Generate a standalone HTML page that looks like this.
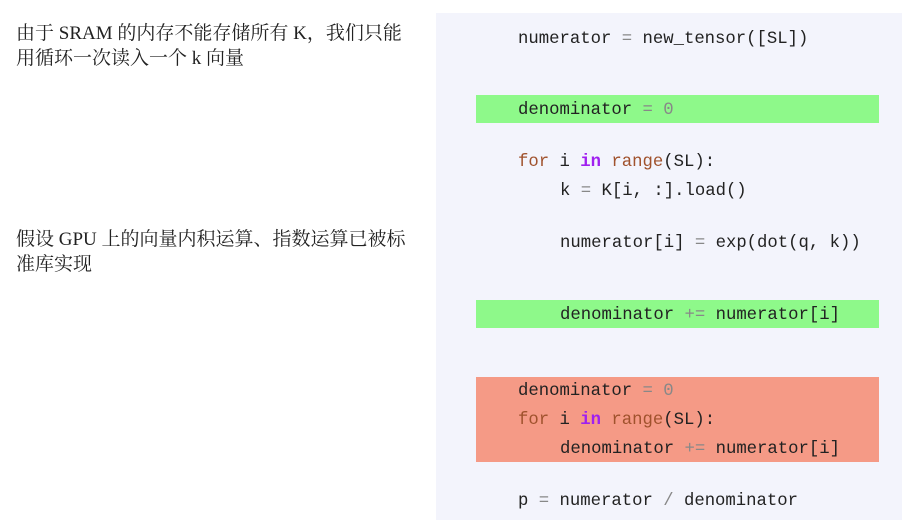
<!DOCTYPE html>
<html><head><meta charset="utf-8"><style>
body{margin:0;width:911px;height:529px;background:#fff;position:relative;overflow:hidden}
.t{position:absolute;left:16px;font-family:"Liberation Serif","Noto Serif CJK SC",serif;font-size:19px;color:#222;line-height:25px;white-space:nowrap}
.panel{position:absolute;left:436px;top:13px;width:466px;height:507px;background:#f3f4fc}
.box{position:absolute;left:476px;width:403px}
.c{position:absolute;font-family:"Liberation Mono",monospace;font-size:17.3px;color:#222;white-space:pre;line-height:20px}
.k{color:#a0522d}.p{color:#a020f0;font-weight:bold}.o{color:#888}
</style></head><body>
<div class="t" style="top:21px">由于 SRAM 的内存不能存储所有 K，我们只能<br>用循环一次读入一个 k 向量</div>
<div class="t" style="top:227px">假设 GPU 上的向量内积运算、指数运算已被标<br>准库实现</div>
<div class="panel"></div>
<div class="box" style="top:95px;height:28px;background:#8ef98a"></div>
<div class="box" style="top:300px;height:28px;background:#8ef98a"></div>
<div class="box" style="top:377px;height:85px;background:#f59a86"></div>
<div class="c" style="left:518px;top:30px">numerator <span class="o">=</span> new_tensor([SL])</div>
<div class="c" style="left:518px;top:101px">denominator <span class="o">= 0</span></div>
<div class="c" style="left:518px;top:153px"><span class="k">for</span> i <span class="p">in</span> <span class="k">range</span>(SL):</div>
<div class="c" style="left:560px;top:182px">k <span class="o">=</span> K[i, :].load()</div>
<div class="c" style="left:560px;top:234px">numerator[i] <span class="o">=</span> exp(dot(q, k))</div>
<div class="c" style="left:560px;top:306px">denominator <span class="o">+=</span> numerator[i]</div>
<div class="c" style="left:518px;top:382px">denominator <span class="o">= 0</span></div>
<div class="c" style="left:518px;top:411px"><span class="k">for</span> i <span class="p">in</span> <span class="k">range</span>(SL):</div>
<div class="c" style="left:560px;top:440px">denominator <span class="o">+=</span> numerator[i]</div>
<div class="c" style="left:518px;top:492px">p <span class="o">=</span> numerator <span class="o">/</span> denominator</div>
</body></html>
